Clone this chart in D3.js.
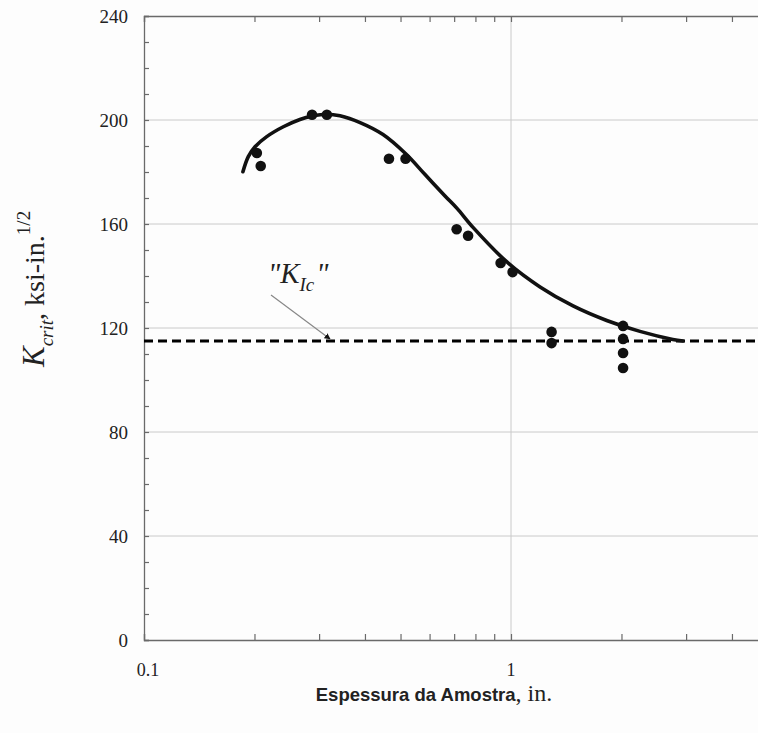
<!DOCTYPE html>
<html lang="en">
<head>
<meta charset="UTF-8">
<title>Kcrit vs espessura</title>
<script src="https://d3js.org/d3.v7.min.js"></script>
<style>
  body, html { margin: 0; padding: 0; background: #fff; }
  svg text { fill: #222; }
</style>
</head>
<body>
<div id="chart"></div>
<script>
// measured points (thickness in., Kcrit ksi-in^1/2)
const thickness = [0.203, 0.208, 0.287, 0.315, 0.465, 0.516, 0.711, 0.764, 0.937, 1.01,
                   1.29, 1.29, 2.02, 2.02, 2.02, 2.02];
const kcrit = [187.3, 182.3, 202, 202, 185.1, 185.1, 158, 155.5, 145, 141.5,
               118.5, 114.2, 120.8, 115.8, 110.4, 104.6];

// fitted curve
const curveX = [0.186, 0.1924, 0.2007, 0.216, 0.2397, 0.266, 0.287, 0.315, 0.342, 0.388,
                0.448, 0.5175, 0.5832, 0.661, 0.7128, 0.788, 0.973, 1.2, 1.476, 1.823,
                2.246, 2.76, 2.94];
const curveY = [180.1, 185.9, 189.7, 193.6, 197.4, 200.2, 201.5, 202.2, 201.6, 199,
                194.4, 186.9, 179.0, 170.8, 166.0, 158.7, 145.5, 135.8, 128.5, 122.9,
                118.7, 115.6, 115];

const kIc = 115;
const yTicks = [0, 40, 80, 120, 160, 200, 240];
const xTicks = [0.1, 1];

(function() {
    const width = 758, height = 733;
    const left = 144, top = 16, bottom = 640;

    const svg = d3.select("#chart").append("svg")
        .attr("width", width).attr("height", height)
        .style("display", "block");

    svg.append("rect").attr("width", width).attr("height", height).attr("fill", "#fdfdfd");

    const x = d3.scaleLog().domain([0.1, 10]).range([left, left + 2 * 367]);
    const y = d3.scaleLinear().domain([0, 240]).range([bottom, top]);
    const right = width;

    // grid
    const grid = svg.append("g").attr("stroke", "#cacaca").attr("stroke-width", 1);
    grid.selectAll("line.h").data(yTicks.filter(d => d > 0 && d < 240)).enter().append("line")
        .attr("x1", left).attr("x2", right)
        .attr("y1", d => y(d)).attr("y2", d => y(d));
    grid.append("line")
        .attr("x1", x(1)).attr("x2", x(1))
        .attr("y1", top).attr("y2", bottom);

    // axes (ticks point inward)
    const axisColor = "#6a6a6a";
    const yMinor = d3.range(0, 241, 10);
    const xMinor = [0.2, 0.3, 0.4, 0.5, 0.6, 0.7, 0.8, 0.9, 2, 3, 4, 5, 6, 7, 8, 9];

    const yAxis = svg.append("g").attr("transform", `translate(${left},0)`)
        .call(d3.axisRight(y).tickValues(yMinor).tickSize(5).tickFormat(""));
    const xAxis = svg.append("g").attr("transform", `translate(0,${bottom})`)
        .call(d3.axisTop(x).tickValues(xMinor.concat(xTicks)).tickSize(6).tickFormat(""));
    const xTop = svg.append("g").attr("transform", `translate(0,${top})`)
        .call(d3.axisBottom(x).tickValues(xMinor.concat(xTicks)).tickSize(6).tickFormat(""));
    [yAxis, xAxis, xTop].forEach(g => {
        g.select(".domain").attr("stroke", axisColor).attr("stroke-width", 1.3);
        g.selectAll(".tick line").attr("stroke", axisColor).attr("stroke-width", 1.2);
    });

    // tick labels
    svg.append("g").selectAll("text").data(yTicks).enter().append("text")
        .attr("x", 128).attr("y", d => y(d)).attr("dy", "0.35em")
        .attr("text-anchor", "end")
        .attr("font-family", "Liberation Serif, serif").attr("font-size", 19)
        .text(d => d);
    svg.append("g").selectAll("text").data(xTicks).enter().append("text")
        .attr("x", d => x(d) + (d === 0.1 ? 4 : 0)).attr("y", 676)
        .attr("text-anchor", "middle")
        .attr("font-family", "Liberation Serif, serif").attr("font-size", 18)
        .text(d => d);

    // K_Ic dashed line
    svg.append("line")
        .attr("x1", left).attr("x2", right)
        .attr("y1", y(kIc)).attr("y2", y(kIc))
        .attr("stroke", "#000").attr("stroke-width", 3.2)
        .attr("stroke-dasharray", "9,5");

    // fitted curve
    const pts = curveX.map((d, i) => [d, curveY[i]]);
    svg.append("path").datum(pts)
        .attr("fill", "none").attr("stroke", "#111").attr("stroke-width", 3.6)
        .attr("stroke-linecap", "round")
        .attr("d", d3.line().x(d => x(d[0])).y(d => y(d[1])).curve(d3.curveCatmullRom.alpha(0.5)));

    // points
    svg.append("g").selectAll("circle").data(thickness).enter().append("circle")
        .attr("cx", d => x(d)).attr("cy", (d, i) => y(kcrit[i]))
        .attr("r", 5.3).attr("fill", "#111");

    // annotation "K_Ic"
    const ann = svg.append("text")
        .attr("x", 268).attr("y", 283)
        .attr("font-family", "Liberation Serif, serif").attr("font-style", "italic")
        .attr("font-size", 29);
    ann.append("tspan").text("\"K");
    ann.append("tspan").attr("font-size", 19).attr("dy", 8).text("Ic");
    ann.append("tspan").attr("dx", 2).attr("dy", -8).text("\"");

    svg.append("defs").append("marker")
        .attr("id", "arrow").attr("viewBox", "0 0 10 10")
        .attr("refX", 9).attr("refY", 5)
        .attr("markerWidth", 6).attr("markerHeight", 6)
        .attr("markerUnits", "userSpaceOnUse")
        .attr("orient", "auto")
        .append("path").attr("d", "M0,0L10,5L0,10Z").attr("fill", "#111");
    svg.append("line")
        .attr("x1", 271).attr("y1", 295).attr("x2", 330).attr("y2", 339)
        .attr("stroke", "#888").attr("stroke-width", 1.2)
        .attr("marker-end", "url(#arrow)");

    // y axis title
    const yt = svg.append("text")
        .attr("transform", "translate(44,367) rotate(-90)")
        .attr("font-family", "Liberation Serif, serif").attr("font-size", 28);
    yt.append("tspan").attr("font-style", "italic").attr("font-size", 31).text("K");
    yt.append("tspan").attr("font-style", "italic").attr("font-size", 19).attr("dy", 9).text("crit");
    yt.append("tspan").attr("dy", -9).text(", ksi-in.");
    yt.append("tspan").attr("font-size", 19).attr("dy", -14).text("1/2");

    // x axis title
    const xt = svg.append("text")
        .attr("x", 434).attr("y", 701).attr("text-anchor", "middle");
    xt.append("tspan").attr("font-family", "Liberation Sans, Arial, sans-serif")
        .attr("font-weight", "bold").attr("font-size", 18.5).text("Espessura da Amostra");
    xt.append("tspan").attr("font-family", "Liberation Serif, serif")
        .attr("font-size", 24).text(", in.");
})();
</script>
</body>
</html>
